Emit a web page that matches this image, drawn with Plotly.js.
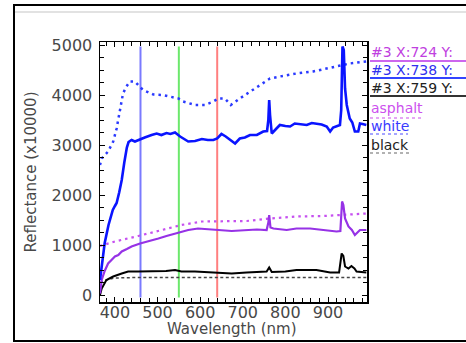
<!DOCTYPE html>
<html>
<head>
<meta charset="utf-8">
<script src="https://cdn.plot.ly/plotly-3.0.1.min.js"></script>
<style>html,body{margin:0;padding:0;background:#fff;}#chart{width:466px;height:343px;}</style>
</head>
<body>
<div id="chart"></div>
<script>
// ---- data ----
const whiteMeasuredX = [365, 369, 376, 385, 395, 400, 404, 410, 416, 422, 428, 432, 439, 447, 459, 470, 486, 498, 509, 521, 530, 541, 553, 562, 572, 588, 604, 618, 631, 640, 650, 660, 670, 682, 693, 705, 717, 733, 748, 757, 760, 762, 764, 768, 778, 787, 800, 811, 822, 835, 850, 862, 873, 885, 897, 905, 912, 920, 928, 931, 934, 937, 940, 944, 951, 957, 963, 971, 975, 981, 990];
const whiteMeasuredY = [300, 600, 1040, 1400, 1700, 1780, 1840, 2050, 2300, 2650, 2950, 3060, 3100, 3070, 3120, 3150, 3200, 3230, 3200, 3240, 3220, 3250, 3170, 3120, 3070, 3080, 3120, 3100, 3100, 3130, 3220, 3170, 3100, 3030, 3130, 3150, 3200, 3200, 3270, 3280, 3500, 3900, 3600, 3230, 3320, 3400, 3380, 3370, 3430, 3410, 3400, 3440, 3430, 3410, 3370, 3270, 3350, 3370, 3400, 3700, 4970, 4900, 4130, 3800, 3530, 3450, 3270, 3270, 3430, 3420, 3400];

const whiteLibraryX = [365, 369, 384, 396, 404, 412, 419, 427, 435, 447, 455, 466, 490, 513, 549, 560, 588, 611, 631, 643, 658, 672, 693, 717, 740, 764, 787, 826, 865, 897, 920, 951, 990];
const whiteLibraryY = [2600, 2730, 2870, 3070, 3330, 3730, 4030, 4170, 4270, 4270, 4200, 4100, 4010, 4000, 3930, 3870, 3800, 3800, 3870, 3930, 3930, 3800, 3930, 4070, 4200, 4330, 4370, 4430, 4470, 4530, 4570, 4630, 4670];

const asphaltMeasuredX = [365, 369, 376, 384, 392, 400, 408, 416, 428, 439, 459, 478, 502, 521, 549, 572, 595, 619, 643, 674, 709, 733, 756, 760, 762, 765, 772, 803, 826, 858, 889, 920, 929, 933, 936, 940, 948, 956, 963, 975, 990];
const asphaltMeasuredY = [30, 300, 480, 630, 700, 770, 800, 870, 920, 970, 1030, 1070, 1130, 1180, 1250, 1300, 1330, 1310, 1300, 1280, 1300, 1310, 1300, 1450, 1600, 1350, 1330, 1300, 1330, 1330, 1300, 1270, 1280, 1870, 1800, 1530, 1370, 1300, 1200, 1300, 1300];

const asphaltLibraryX = [365, 400, 455, 509, 556, 604, 650, 709, 764, 826, 889, 928, 990];
const asphaltLibraryY = [980, 1070, 1180, 1300, 1400, 1470, 1480, 1480, 1530, 1570, 1580, 1600, 1630];

const blackMeasuredX = [365, 369, 380, 396, 416, 431, 455, 494, 520, 541, 556, 588, 643, 674, 709, 756, 762, 768, 800, 826, 873, 905, 926, 932, 936, 940, 948, 955, 962, 967, 990];
const blackMeasuredY = [0, 130, 300, 370, 430, 470, 470, 470, 480, 500, 470, 470, 450, 430, 450, 470, 550, 460, 470, 500, 500, 450, 450, 830, 780, 570, 530, 580, 530, 470, 450];

const blackLibraryX = [365, 380, 400, 450, 600, 800, 990];
const blackLibraryY = [250, 300, 340, 350, 350, 350, 350];

const markerWavelengths = [460, 550, 640];
const markerColors = ['#7a7aff', '#6ce86c', '#ff7f7f'];
const markerSpan = [-50, 4970];

const legendTexts = ['#3 X:724 Y:', '#3 X:738 Y:', '#3 X:759 Y:', 'asphalt', 'white', 'black'];

const xTickVals = [400, 500, 600, 700, 800, 900];
const yTickVals = [0, 1000, 2000, 3000, 4000, 5000];
const xTitle = 'Wavelength (nm)';
const yTitle = 'Reflectance (x10000)';

// ---- traces ----
const traces = [];
markerWavelengths.forEach((w, i) => {
  traces.push({x: [w, w], y: markerSpan, mode: 'lines', line: {color: markerColors[i], width: 2}, hoverinfo: 'skip', showlegend: false});
});
traces.push({x: whiteLibraryX, y: whiteLibraryY, mode: 'lines', line: {color: '#2a3aff', width: 2.5, dash: '2.5px,4px'}, showlegend: false});
traces.push({x: asphaltLibraryX, y: asphaltLibraryY, mode: 'lines', line: {color: '#c650f0', width: 2.2, dash: '2.5px,4px'}, showlegend: false});
traces.push({x: blackLibraryX, y: blackLibraryY, mode: 'lines', line: {color: '#444', width: 1.5, dash: '3px,2.5px'}, showlegend: false});
traces.push({x: blackMeasuredX, y: blackMeasuredY, mode: 'lines', line: {color: '#000', width: 2}, showlegend: false});
traces.push({x: asphaltMeasuredX, y: asphaltMeasuredY, mode: 'lines', line: {color: '#9632e6', width: 2.2}, showlegend: false});
traces.push({x: whiteMeasuredX, y: whiteMeasuredY, mode: 'lines', line: {color: '#0a14ff', width: 2.6}, showlegend: false});
// empty trace so the mirrored (top/right) tick axes are drawn
traces.push({x: [], y: [], xaxis: 'x2', yaxis: 'y2', mode: 'lines', showlegend: false, hoverinfo: 'skip'});

// ---- layout helpers (pixel -> paper) ----
const L = 100, R = 367, T = 42, B = 302;
const px = v => (v - L) / (R - L);
const py = v => (B - v) / (B - T);

const legendRows = [52, 70, 88, 108, 126, 145];
const legendColors = ['#c040e0', '#3030ee', '#222222', '#cc50ee', '#3a3aff', '#222222'];
const underlineRows = [61, 78, 96, 118, 134, 153];
const underlineEnds = [480, 480, 480, 423, 408, 410];
const underlineColors = ['#cc66ee', '#3344ff', '#333333', '#dd88f2', '#8888ff', '#999999'];
const underlineDash = ['solid', 'solid', 'solid', 'dot', 'dot', 'dot'];

const axisFont = {family: 'DejaVu Sans', size: 16, color: '#484848'};
const titleFont = {family: 'DejaVu Sans', size: 15, color: '#484848'};

const annotations = legendTexts.map((t, i) => ({
  text: t, xref: 'paper', yref: 'paper', x: px(369), y: py(legendRows[i]),
  xanchor: 'left', yanchor: 'middle', showarrow: false,
  font: {family: 'DejaVu Sans', size: 14, color: legendColors[i]}
}));
annotations.push({text: xTitle, xref: 'paper', yref: 'paper', x: px(232), y: py(329),
  xanchor: 'center', yanchor: 'middle', showarrow: false, font: titleFont});

const shapes = [
  {type: 'rect', xref: 'paper', yref: 'paper', x0: px(14), x1: px(480), y0: py(341), y1: py(5), line: {color: '#000', width: 2}, fillcolor: 'rgba(0,0,0,0)', layer: 'below'},
  {type: 'line', xref: 'paper', yref: 'paper', x0: px(15), x1: px(480), y0: py(12), y1: py(12), line: {color: '#e2e2e2', width: 2}}
];
underlineRows.forEach((r, i) => {
  shapes.push({type: 'line', xref: 'paper', yref: 'paper', x0: px(370), x1: px(underlineEnds[i]), y0: py(r), y1: py(r),
    line: {color: underlineColors[i], width: i < 3 ? 2 : 1.5, dash: underlineDash[i]}});
});

const xRange = [365, 991.5];
const yRange = [-140, 5060];

const layout = {
  width: 466, height: 343,
  margin: {l: L, r: 466 - R, t: T, b: 343 - B, pad: 0},
  paper_bgcolor: '#fff', plot_bgcolor: '#fff',
  showlegend: false,
  xaxis: {
    range: xRange, tickvals: xTickVals, ticktext: xTickVals.map(String),
    ticks: 'inside', ticklen: 5, tickwidth: 1, tickcolor: '#000', ticklabelstandoff: -5,
    minor: {dtick: 20, ticks: 'inside', ticklen: 4, tickcolor: '#000', tick0: 0},
    showline: true, linecolor: '#000', linewidth: 1.5, mirror: true,
    showgrid: false, zeroline: false, tickfont: axisFont, automargin: false
  },
  yaxis: {
    range: yRange, tickvals: yTickVals, ticktext: yTickVals.map(String),
    ticks: 'inside', ticklen: 5, tickwidth: 1, tickcolor: '#000', ticklabelstandoff: 3,
    minor: {dtick: 250, ticks: 'inside', ticklen: 4, tickcolor: '#000', tick0: 0},
    showline: true, linecolor: '#000', linewidth: 1.5, mirror: true,
    showgrid: false, zeroline: false, tickfont: axisFont, automargin: false,
    title: {text: yTitle, font: titleFont, standoff: 11}
  },
  xaxis2: {
    overlaying: 'x', side: 'top', anchor: 'y2', range: xRange, tickvals: xTickVals,
    ticks: 'inside', ticklen: 5, tickwidth: 1, tickcolor: '#000', showticklabels: false,
    minor: {dtick: 20, ticks: 'inside', ticklen: 4, tickcolor: '#000', tick0: 0},
    showline: false, showgrid: false, zeroline: false, automargin: false
  },
  yaxis2: {
    overlaying: 'y', side: 'right', anchor: 'x2', range: yRange, tickvals: yTickVals,
    ticks: 'inside', ticklen: 5, tickwidth: 1, tickcolor: '#000', showticklabels: false,
    minor: {dtick: 250, ticks: 'inside', ticklen: 4, tickcolor: '#000', tick0: 0},
    showline: false, showgrid: false, zeroline: false, automargin: false
  },
  annotations: annotations,
  shapes: shapes
};

Plotly.newPlot('chart', traces, layout, {displayModeBar: false, staticPlot: true});
</script>
</body>
</html>
